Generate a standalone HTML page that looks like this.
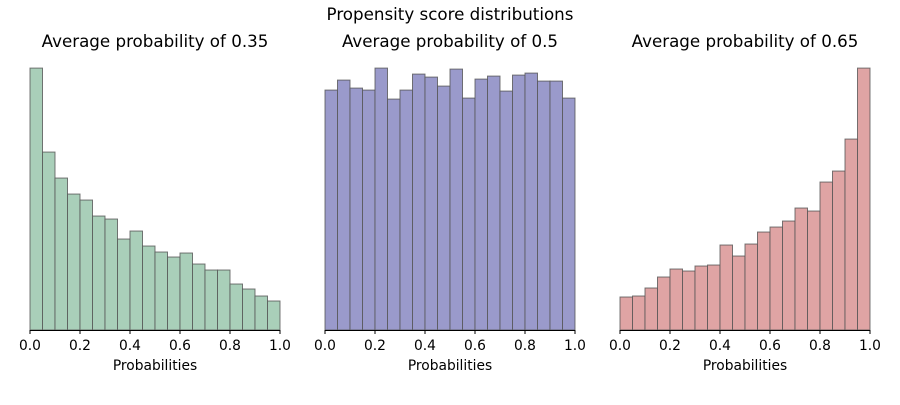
<!DOCTYPE html>
<html><head><meta charset="utf-8"><style>
body{margin:0;background:#fff}
svg text{font-family:"DejaVu Sans","Liberation Sans",sans-serif;fill:#000}
</style></head><body>
<svg id="c" width="900" height="400">
<text x="450" y="20" font-size="16.7" text-anchor="middle">Propensity score distributions</text>
</svg>
<script>
const panelTitles=["Average probability of 0.35","Average probability of 0.5","Average probability of 0.65"];
const countsA=[262,178,152,136,130,114,111,91,99,84,78,73,77,66,60,60,46,41,34,29];
const countsB=[240,250,242,240,262,231,240,256,253,244,261,232,251,254,239,255,257,249,249,232];
const countsC=[33,34,42,53,61,59,64,65,85,74,86,98,103,109,122,119,148,159,191,262];
const tickLabels=["0.0","0.2","0.4","0.6","0.8","1.0"];
const tickValues=[0,0.2,0.4,0.6,0.8,1.0];
const series=[countsA,countsB,countsC];
const fills=["#a9cfb9","#9a9acb","#dfa4a4"];
const lefts=[30,325,620];
const W=250,base=330,H=275;
const svg=document.getElementById('c');
const NS="http://www.w3.org/2000/svg";
function mk(t,a){const e=document.createElementNS(NS,t);for(const k in a)e.setAttribute(k,a[k]);svg.appendChild(e);return e;}
series.forEach((data,p)=>{
  const x0=lefts[p];
  const max=Math.max(...data)*1.05;
  const xs=v=>x0+v*W;
  const ys=v=>base-v/max*H;
  const bw=1/data.length;
  data.forEach((v,i)=>{
    const r=mk('rect',{x:xs(i*bw),y:ys(v),width:W*bw,height:base-ys(v),fill:fills[p],stroke:"#555",'stroke-width':1,'stroke-opacity':0.8});
    
    
  });
  const ax=mk('line',{x1:x0,x2:x0+W,y1:base+0.5,y2:base+0.5,stroke:"#000",'stroke-width':1});
  
  
  tickValues.forEach((tv,i)=>{
    const tk=mk('line',{x1:xs(tv),x2:xs(tv),y1:base,y2:base+4,stroke:"#000"});
    
    
    const tl=mk('text',{x:xs(tv),y:base+20,'font-size':13.8,'text-anchor':'middle'});
    tl.textContent=tickLabels[i];
    
    
  });
  const xl=mk('text',{x:x0+W/2,y:370,'font-size':13.8,'text-anchor':'middle'});
  xl.textContent="Probabilities";
  
  
  const tt=mk('text',{x:x0+W/2,y:47,'font-size':16.7,'text-anchor':'middle'});
  tt.textContent=panelTitles[p];
  
  
});
</script>
</body></html>
